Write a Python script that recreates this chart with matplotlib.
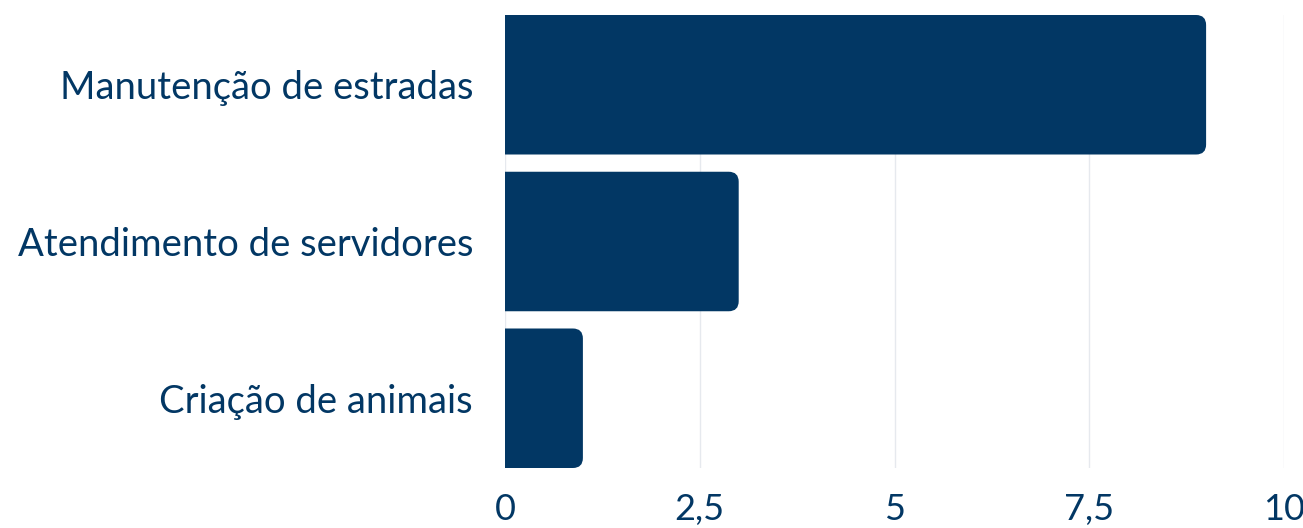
import matplotlib
matplotlib.use("Agg")
import matplotlib.pyplot as plt
from matplotlib.patches import FancyBboxPatch

# survey results
categories = ["Manutenção de estradas", "Atendimento de servidores", "Criação de animais"]
values = [9, 3, 1]
xticks = [0, 2.5, 5, 7.5, 10]
xtick_labels = ["0", "2,5", "5", "7,5", "10"]

navy = "#023764"
bar_h = 0.89

plt.rcParams["font.family"] = ["Lato", "DejaVu Sans"]

fig = plt.figure(figsize=(13.03, 5.28), dpi=100)
ax = fig.add_axes([505 / 1303, 1 - 468 / 528, 779 / 1303, 453 / 528])

ax.set_xlim(0, 10)
ax.set_ylim(len(categories) - 1 + bar_h / 2, -bar_h / 2)

# rounded corners only on the right: start the box left of 0 and let the axes clip it
fig.canvas.draw()
bbox = ax.get_window_extent()
px_x = bbox.width / 10
px_y = bbox.height / (len(categories) - 1 + bar_h)
radius = 10 / px_x
for i, v in enumerate(values):
    patch = FancyBboxPatch(
        (-1, i - bar_h / 2), v + 1, bar_h,
        boxstyle=f"round,pad=0,rounding_size={radius}",
        mutation_aspect=px_x / px_y,
        facecolor=navy, edgecolor="none", zorder=3, clip_on=True,
    )
    ax.add_patch(patch)

ax.set_yticks(range(len(categories)))
ax.set_yticklabels(categories, fontsize=27.5, color=navy)
ax.set_xticks(xticks)
ax.set_xticklabels(xtick_labels, fontsize=26, color=navy)
ax.tick_params(axis="y", length=0, pad=23)
ax.tick_params(axis="x", length=0, pad=18)

ax.grid(axis="x", color="#e6e9ee", linewidth=1, zorder=0)
for s in ax.spines.values():
    s.set_visible(False)

fig.savefig("out.png", dpi=100)
